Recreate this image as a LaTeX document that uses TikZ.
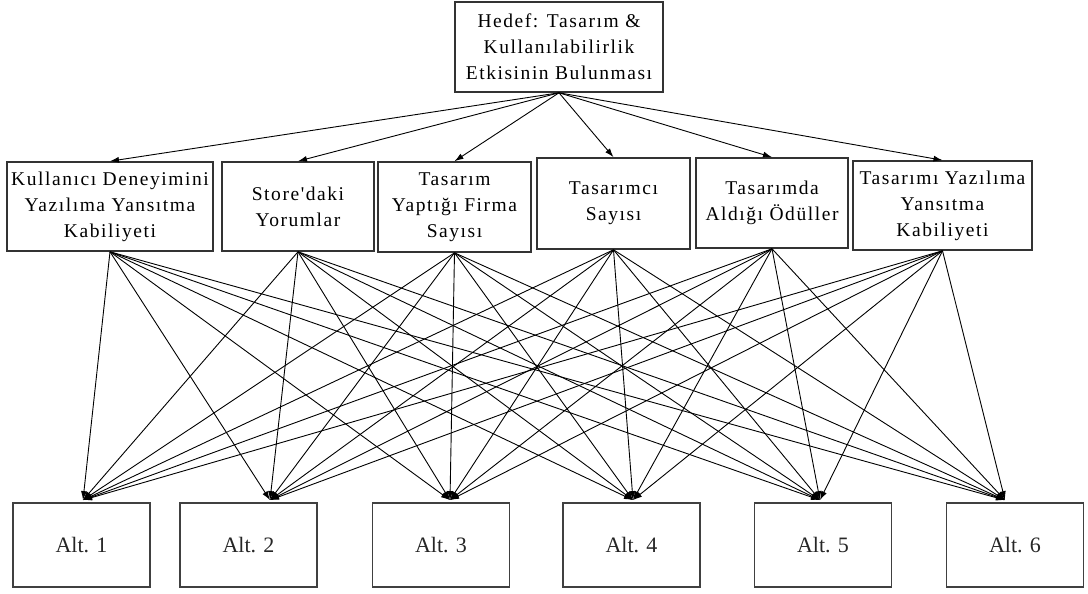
\documentclass[tikz,border=0pt]{standalone}
\usepackage{fontspec}
\setmainfont{Liberation Serif}
\newfontfamily\critfont[LetterSpace=8]{Liberation Serif}
\usetikzlibrary{shapes,arrows.meta}
\tikzset{%
    block/.style = {draw=black!80, line width=1.6pt, rectangle, align=center, inner sep=0pt,
        font=\critfont\fontsize{19.5}{26}\selectfont},
    altblock/.style = {draw=black!75, line width=1.8pt, rectangle, inner sep=0pt,
        minimum width=137pt, minimum height=84pt, text=black!85, font=\fontsize{22}{26}\selectfont},
    link/.style = {->, line width=0.9pt},
}

\begin{document}
\begin{tikzpicture}[x=1pt, y=-1pt, >={Latex[length=9pt,width=6pt]}]
    \useasboundingbox (0,0) rectangle (1088,594);
    \draw
        node at (559,47) [block, minimum width=208pt, minimum height=90pt] (goal)
        {Hedef: Tasarım \&\\ Kullanılabilirlik\\ Etkisinin Bulunması}
        % criteria
        node at (110,206.5) [block, minimum width=206pt, minimum height=89pt] (c1)
        {Kullanıcı Deneyimini\\ Yazılıma Yansıtma\\ Kabiliyeti}
        node at (298,206.5) [block, minimum width=152pt, minimum height=89pt] (c2)
        {Store'daki\\ Yorumlar}
        node at (454.5,207) [block, minimum width=153pt, minimum height=90pt] (c3)
        {Tasarım\\ Yaptığı Firma\\ Sayısı}
        node at (613.5,203.5) [block, minimum width=153pt, minimum height=91pt] (c4)
        {Tasarımcı\\ Sayısı}
        node at (772,203) [block, minimum width=152pt, minimum height=90pt] (c5)
        {Tasarımda\\ Aldığı Ödüller}
        node at (942.5,205.5) [block, minimum width=179pt, minimum height=89pt] (c6)
        {Tasarımı Yazılıma\\ Yansıtma\\ Kabiliyeti}
        % alternatives
        node at (81.5,545) [altblock] (a1) {Alt. 1}
        node at (248.5,545) [altblock] (a2) {Alt. 2}
        node at (441,545) [altblock] (a3) {Alt. 3}
        node at (631.5,545) [altblock] (a4) {Alt. 4}
        node at (823,545) [altblock] (a5) {Alt. 5}
        node at (1015,545) [altblock] (a6) {Alt. 6};

    \coordinate (t1) at ([xshift=1.5pt,yshift=2pt]a1.north);
    \coordinate (t2) at ([xshift=21.5pt,yshift=2pt]a2.north);
    \coordinate (t3) at ([xshift=9pt,yshift=2pt]a3.north);
    \coordinate (t4) at ([xshift=1.5pt,yshift=2pt]a4.north);
    \coordinate (t5) at ([xshift=-3pt,yshift=2pt]a5.north);
    \coordinate (t6) at ([xshift=-10pt,yshift=2pt]a6.north);

    \foreach \c in {1,...,6}
        \draw[link] (goal.south) -- (c\c.north);
    \foreach \c in {1,...,6}
        \foreach \a in {1,...,6}
            \draw[link] (c\c.south) -- (t\a);
\end{tikzpicture}
\end{document}
